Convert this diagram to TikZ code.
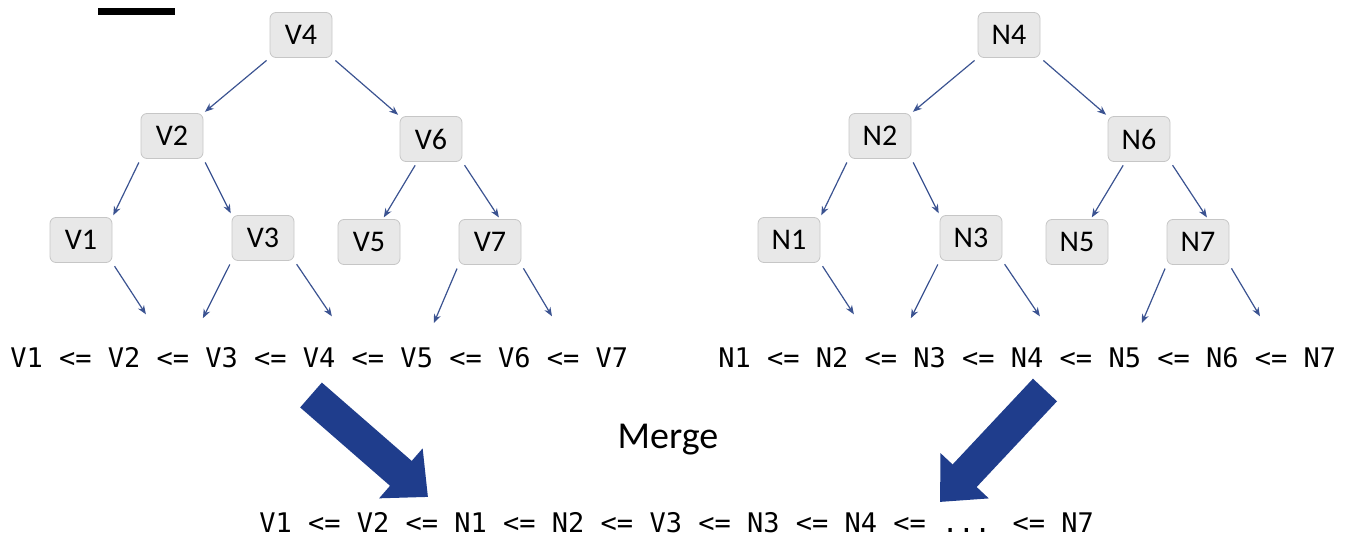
\documentclass[tikz,border=0pt]{standalone}
\usepackage{fontspec}
\setmainfont{Carlito}
\newfontfamily\listfont{DejaVu Sans Mono}
\usepackage{xcolor}
\definecolor{cBox}{HTML}{E8E8E8}
\definecolor{cEdge}{HTML}{C6C6C6}
\definecolor{cLine}{HTML}{3B5391}
\definecolor{cMerge}{HTML}{1F3D8C}
\usepackage{tikz}
\usetikzlibrary{arrows.meta}
\tikzset{
  tree-box/.style={draw=cEdge,fill=cBox,rounded corners=3pt,
    minimum width=31pt,minimum height=22.5pt,inner sep=1pt,
    font=\fontsize{15}{17}\selectfont},
  tree-arrow/.style={-{Stealth[length=4.5pt,width=3.5pt]},draw=cLine,
    line width=0.6pt,shorten <=2pt,shorten >=1pt},
  order-list/.style={anchor=base west,inner sep=0pt,
    font=\listfont\fontsize{13.5}{16}\selectfont},
  merge-arrow/.style={-{Triangle[length=18pt,width=32pt]},draw=cMerge,
    line width=16.5pt},
}

\begin{document}
\begin{tikzpicture}[x=0.5pt,y=-0.5pt]
  \useasboundingbox (0,0) rectangle (1349,540);
  \fill (98,8) rectangle (175,15);
  % two trees of the same shape, V on the left and N on the right
  \foreach \t/\dx in {V/0,N/708}{
    \begin{scope}[shift={(\dx,0)}]
      \node[tree-box] (\t4) at (301,35)  {\t4};
      \node[tree-box] (\t2) at (172,136) {\t2};
      \node[tree-box] (\t6) at (431,139) {\t6};
      \node[tree-box] (\t1) at (81,240)  {\t1};
      \node[tree-box] (\t3) at (263,238) {\t3};
      \node[tree-box] (\t5) at (369,242) {\t5};
      \node[tree-box] (\t7) at (490,242) {\t7};
      \coordinate (\t12) at (147,316);
      \coordinate (\t23) at (202,320);
      \coordinate (\t34) at (333,318);
      \coordinate (\t56) at (433,325);
      \coordinate (\t67) at (553,318);
      \draw[tree-arrow] (\t4.south west) -- (\t2.north east);
      \draw[tree-arrow] (\t4.south east) -- (\t6.north west);
      \draw[tree-arrow] (\t2.south west) -- (\t1.north east);
      \draw[tree-arrow] (\t2.south east) -- (\t3.north west);
      \draw[tree-arrow] (\t6) -- (\t5);
      \draw[tree-arrow] (\t6.south east) -- ([xshift=5]\t7.north);
      \draw[tree-arrow] (\t1.south east) -- (\t12);
      \draw[tree-arrow] (\t3.south west) -- (\t23);
      \draw[tree-arrow] (\t3.south east) -- (\t34);
      \draw[tree-arrow] (\t7.south west) -- (\t56);
      \draw[tree-arrow] (\t7.south east) -- (\t67);
    \end{scope}
  }
  \node[order-list] (vlist) at (10,367)  {V1 <= V2 <= V3 <= V4 <= V5 <= V6 <= V7};
  \node[order-list] (nlist) at (718,367) {N1 <= N2 <= N3 <= N4 <= N5 <= N6 <= N7};
  \node[font=\fontsize{19}{21}\selectfont] (merge) at (668,440) {Merge};
  \node[order-list] (mlist) at (259,532)
    {V1 <= V2 <= N1 <= N2 <= V3 <= N3 <= N4 <= ... <= N7};
  \coordinate (vtail) at (311,395);
  \coordinate (vtip)  at (428,497);
  \coordinate (ntail) at (1045,390);
  \coordinate (ntip)  at (940,502);
  \draw[merge-arrow] (vtail) -- (vtip);
  \draw[merge-arrow] (ntail) -- (ntip);
\end{tikzpicture}
\end{document}
